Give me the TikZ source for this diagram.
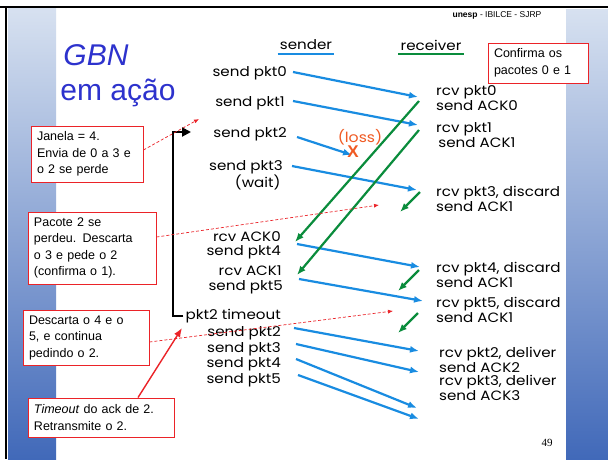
\documentclass[tikz,border=0pt]{standalone}
\usepackage{fontspec}
\setmainfont{Liberation Sans}
\newfontfamily\gothic[FakeStretch=1.12]{Poppins}
\newfontfamily\timesfont{Liberation Serif}
\usetikzlibrary{arrows.meta,positioning}
\definecolor{sndblue}{RGB}{25,140,225}
\definecolor{rcvgreen}{RGB}{10,140,60}
\definecolor{callred}{RGB}{235,35,40}
\definecolor{titleblue}{RGB}{45,50,205}
\definecolor{lossorange}{RGB}{240,90,35}
\definecolor{stripTop}{RGB}{215,225,240}
\definecolor{stripMid}{RGB}{125,155,210}
\definecolor{stripBot}{RGB}{65,105,185}

\begin{document}
\begin{tikzpicture}[
  x=1pt,y=-1pt,
  snd/.style={font=\gothic\fontsize{13.5}{15.5}\selectfont,inner sep=0pt,anchor=east,align=right},
  rcv/.style={font=\gothic\fontsize{13.5}{15}\selectfont,inner sep=0pt,anchor=west,align=left},
  pkt/.style={-{Latex[length=9pt,width=7pt]},line width=2.2pt,color=sndblue},
  ack/.style={-{Latex[length=9pt,width=7pt]},line width=2.2pt,color=rcvgreen},
  note/.style={draw=callred,line width=0.9pt,fill=white,align=left,inner xsep=6pt,
    font=\fontsize{12.5}{16.5}\selectfont},
  hint/.style={-{Latex[length=5pt,width=4pt]},densely dashed,line width=0.7pt,color=callred},
]
\useasboundingbox (0,0) rectangle (608,459);
\fill[white] (0,0) rectangle (608,459);

% side strips and frame
\shade[top color=stripTop,middle color=stripMid,bottom color=stripBot] (8,8) rectangle (56,459);
\shade[top color=stripTop,middle color=stripMid,bottom color=stripBot] (566,9) rectangle (608,459);
\draw[line width=2pt] (0,7) -- (608,7);
\draw[line width=2pt] (6,7) -- (6,459);

% headings
\node[font=\fontsize{8.5}{10}\selectfont] (inst) at (497,15) {\textbf{unesp} - IBILCE - SJRP};
\node[font=\fontsize{30}{36}\selectfont\itshape,color=titleblue] (gbn) at (96,55) {GBN};
\node[font=\fontsize{30}{36}\selectfont,color=titleblue] (acao) at (118,93) {em ação};
\node[font=\gothic\fontsize{13.5}{15}\selectfont,inner xsep=2pt] (sender) at (306,45) {sender};
\node[font=\gothic\fontsize{13.5}{15}\selectfont,inner xsep=2pt] (receiver) at (431,45) {receiver};
\draw[sndblue,line width=2pt] ([yshift=-4pt]sender.base west) -- ([yshift=-4pt]sender.base east);
\draw[rcvgreen,line width=2pt] ([yshift=-4pt]receiver.base west) -- ([yshift=-4pt]receiver.base east);

% sender side
\node[snd] (s0) at (287,73) {send pkt0};
\node[snd] (s1) at (285,103) {send pkt1};
\node[snd] (s2) at (287,134) {send pkt2};
\node[snd] (s3) at (283,175) {send pkt3\\(wait)\,};
\node[snd] (a0) at (281,237) {rcv ACK0};
\node[snd] (s4) at (281,252) {send pkt4};
\node[snd] (a1) at (282,271) {rcv ACK1};
\node[snd] (s5) at (283,287) {send pkt5};
\node[snd] (tout) at (281,316) {pkt2 timeout};
\node[snd] (t2) at (281,333) {send pkt2};
\node[snd] (t3) at (281,349) {send pkt3};
\node[snd] (t4) at (281,364) {send pkt4};
\node[snd] (t5) at (281,380) {send pkt5};

% receiver side
\node[rcv] (r0) at (436,98.5) {rcv pkt0\\send ACK0};
\node[rcv] (r1) at (436,135.5) {rcv pkt1\\\,send ACK1};
\node[rcv] (r3) at (436,199) {rcv pkt3, discard\\send ACK1};
\node[rcv] (r4) at (436,275) {rcv pkt4, discard\\send ACK1};
\node[rcv] (r5) at (436,310) {rcv pkt5, discard\\send ACK1};
\node[rcv] (d2) at (439,359.5) {rcv pkt2, deliver\\send ACK2};
\node[rcv] (d3) at (439,388) {rcv pkt3, deliver\\send ACK3};

% timeline points
\coordinate (p0s) at (293,72);  \coordinate (p0r) at (418,97);
\coordinate (p1s) at (293,101); \coordinate (p1r) at (418,125);
\coordinate (p2s) at (297,137); \coordinate (lost) at (352,155);
\coordinate (p3s) at (292,166); \coordinate (p3r) at (417,190);
\coordinate (p4s) at (297,244); \coordinate (p4r) at (420,267);
\coordinate (p5s) at (299,279); \coordinate (p5r) at (423,301);
\coordinate (q2s) at (294,328); \coordinate (q2r) at (419,351);
\coordinate (q3s) at (296,344); \coordinate (q3r) at (419,372);
\coordinate (q4s) at (296,359); \coordinate (q4r) at (417,408);
\coordinate (q5s) at (298,375); \coordinate (q5r) at (419,419);
\coordinate (k0r) at (419,101); \coordinate (k0s) at (295,242);
\coordinate (k1r) at (419,130); \coordinate (k1s) at (297,275);
\coordinate (k3r) at (420,192); \coordinate (k3s) at (400,212);
\coordinate (k4r) at (419,270); \coordinate (k4s) at (398,291);
\coordinate (k5r) at (418,313); \coordinate (k5s) at (398,333);

% data packets
\draw[pkt] (p0s) -- (p0r);
\draw[pkt] (p1s) -- (p1r);
\draw[pkt] (p2s) -- (lost);
\draw[pkt] (p3s) -- (p3r);
\draw[pkt] (p4s) -- (p4r);
\draw[pkt] (p5s) -- (p5r);
\draw[pkt] (q2s) -- (q2r);
\draw[pkt] (q3s) -- (q3r);
\draw[pkt] (q4s) -- (q4r);
\draw[pkt] (q5s) -- (q5r);

% acks
\draw[ack] (k0r) -- (k0s);
\draw[ack] (k1r) -- (k1s);
\draw[ack] (k3r) -- (k3s);
\draw[ack] (k4r) -- (k4s);
\draw[ack] (k5r) -- (k5s);

\node[font=\gothic\fontsize{14}{15}\selectfont,color=lossorange] (loss) at (360,137) {(loss)};
\node[font=\bfseries\fontsize{17}{17}\selectfont,color=lossorange] (xmark) at (353,152) {X};

% timer
\coordinate (wstart) at (191,132);
\draw[line width=2pt,-{Triangle[length=9pt,width=9pt]}] ([xshift=-2pt]tout.west) -- ++(-10,0) |- (wstart);

% callouts
\node[note,minimum width=112pt,minimum height=56pt,text width=100pt] (janela) at (87,154)
  {Janela = 4.\\Envia de 0 a 3 e\\o 2 se perde};
\node[note,minimum width=128pt,minimum height=72pt,text width=116pt] (pacote) at (92,248)
  {Pacote 2 se\\perdeu. Descarta\\o 3 e pede o 2\\(confirma o 1).};
\node[note,minimum width=126pt,minimum height=55pt,text width=114pt] (descarta) at (86,337.5)
  {Descarta o 4 e o\\5, e continua\\pedindo o 2.};
\node[note,minimum width=146pt,minimum height=39pt,text width=134pt] (tmo) at (101,417.5)
  {\textit{Timeout} do ack de 2.\\Retransmite o 2.};
\node[note,minimum width=100pt,minimum height=40pt,text width=88pt] (conf) at (538,63)
  {Confirma os\\pacotes 0 e 1};

\coordinate (jtip) at (199,119);
\coordinate (ptip) at (379,205);
\coordinate (dtip) at (393,311);
\coordinate (ttip) at (182,328);
\draw[hint] ([yshift=4pt]janela.east) -- (jtip);
\draw[hint] ([yshift=11pt]pacote.east) -- (ptip);
\draw[hint] ([yshift=-4.5pt]descarta.east) -- (dtip);
\draw[-{Latex[length=9pt,width=7pt]},line width=1.4pt,color=callred] ([xshift=37pt]tmo.north) -- (ttip);

\node[font=\timesfont\fontsize{11}{13}\selectfont] (page) at (547,443) {49};
\end{tikzpicture}
\end{document}
